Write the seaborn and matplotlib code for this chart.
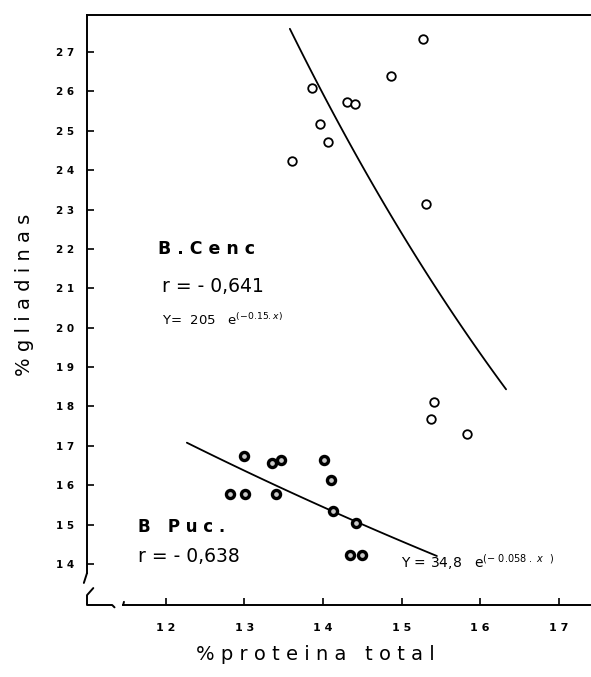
import matplotlib
matplotlib.use("Agg")
import matplotlib.pyplot as plt
import seaborn as sns
import numpy as np
import pandas as pd

# B. Cenc (open circles)
cenc_x = [15.27, 14.87, 13.86, 14.31, 14.41, 13.96, 14.06, 13.61, 15.31, 15.41, 15.37, 15.83]
cenc_y = [27.33, 26.40, 26.09, 25.74, 25.68, 25.17, 24.72, 24.24, 23.14, 18.11, 17.69, 17.30]

# B. Puc (thick circles)
puc_x = [13.00, 13.35, 13.47, 14.02, 14.10, 12.82, 13.01, 13.41, 14.13, 14.42, 14.35, 14.50]
puc_y = [16.74, 16.56, 16.64, 16.64, 16.13, 15.77, 15.77, 15.78, 15.34, 15.05, 14.22, 14.22]

# fitted curves Y = a * exp(b * x), as drawn
cenc_fit = (202.0, -0.1466, 13.58, 16.33)
puc_fit = (34.8, -0.058, 12.27, 15.45)

x_ticks = [12, 13, 14, 15, 16, 17]
y_ticks = list(range(14, 28))

sns.set_style("white")
plt.rcParams['font.family'] = ['DejaVu Sans']
plt.rcParams['text.color'] = 'black'

fig = plt.figure(figsize=(5.91, 6.77), dpi=100)
ax = fig.add_axes([87/591, 1-605/677, 504/591, 590/677])

pts = pd.DataFrame({"x": cenc_x + puc_x,
                    "y": cenc_y + puc_y,
                    "grupo": ["Cenc"]*len(cenc_x) + ["Puc"]*len(puc_x)})
sns.scatterplot(data=pts[pts.grupo == "Cenc"], x="x", y="y", ax=ax, s=38,
                facecolor="white", edgecolor="black", linewidth=1.3, legend=False, zorder=3)
sns.scatterplot(data=pts[pts.grupo == "Puc"], x="x", y="y", ax=ax, s=34,
                facecolor="#c8c8c8", edgecolor="black", linewidth=2.4, legend=False, zorder=3)

for a, b, x0, x1 in [cenc_fit, puc_fit]:
    xs = np.linspace(x0, x1, 100)
    sns.lineplot(x=xs, y=a*np.exp(b*xs), ax=ax, color="black", linewidth=1.3)

ax.set_xlim(11.0, 17.41)
ax.set_ylim(12.96, 27.94)
ax.set_xticks(x_ticks)
ax.set_xticklabels([" ".join(str(t)) for t in x_ticks], fontsize=8, fontweight="bold")
ax.set_yticks(y_ticks)
ax.set_yticklabels([" ".join(str(t)) for t in y_ticks], fontsize=7.5, fontweight="bold")
ax.tick_params(direction="in", length=5, width=1.2, pad=9, colors="black",
               left=True, bottom=True)
ax.tick_params(axis="x", pad=13)
ax.set_xlabel("")
ax.set_ylabel("")

for s in ["left", "top", "bottom"]:
    ax.spines[s].set_color("black")
    ax.spines[s].set_linewidth(1.4)
ax.spines["right"].set_visible(False)
ax.spines["left"].set_bounds(13.77, 27.94)
ax.spines["bottom"].set_bounds(11.46, 17.41)

# axis break marks
brk = dict(color="black", linewidth=1.4, clip_on=False)
ax.plot([11.0, 10.96], [13.77, 13.52], **brk)
ax.plot([11.08, 11.0, 11.0, 11.32, 11.35], [13.39, 13.21, 12.96, 12.96, 12.90], **brk)
ax.plot([11.46, 11.47], [12.96, 13.04], **brk)

# annotations
ax.text(11.9, 22.0, "B . C e n c", fontsize=12.5, fontweight="bold", va="center")
ax.text(11.95, 21.05, "r = - 0,641", fontsize=13.5, va="center")
ax.text(11.95, 20.2, r"Y=  205   e$^{(-0.15.x)}$", fontsize=9.5, va="center")
ax.text(11.65, 14.95, "B   P u c .", fontsize=12, fontweight="bold", va="center")
ax.text(11.65, 14.18, "r = - 0,638", fontsize=13.5, va="center")
ax.text(14.99, 14.05, r"Y = 34,8   e$^{(-\ 0.058\ .\ x\ \ )}$", fontsize=10, va="center")

fig.text(315/591, 1-655/677, "% p r o t e i n a   t o t a l", fontsize=14,
         ha="center", va="center")
fig.text(25/591, 1-295/677, "% g l i a d i n a s", fontsize=14, rotation=90,
         ha="center", va="center")

fig.savefig("out.png", dpi=100)
